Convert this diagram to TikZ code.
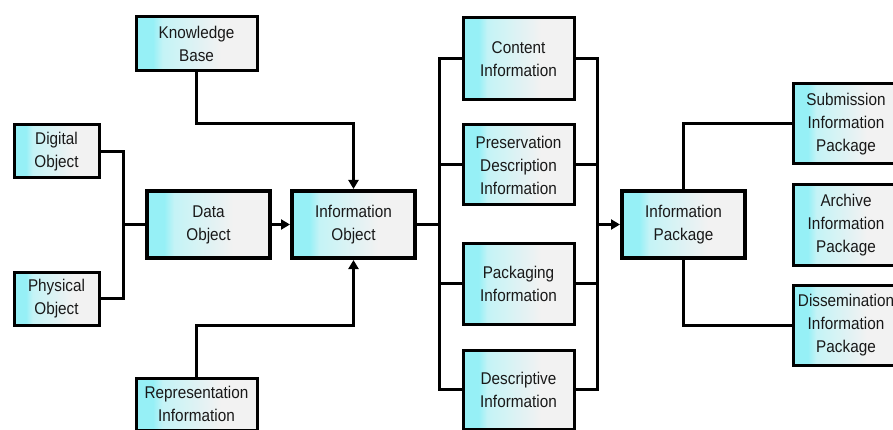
\documentclass[tikz,border=0pt]{standalone}
\usepackage{fontspec}
\setmainfont{Liberation Sans}[FakeStretch=0.9]
\usetikzlibrary{arrows.meta}
\definecolor{cA}{RGB}{150,240,246}
\definecolor{cB}{RGB}{196,243,246}
\definecolor{cC}{RGB}{242,242,242}
\pgfdeclarehorizontalshading{boxshade}{100bp}{color(0bp)=(cA); color(32bp)=(cA); color(36bp)=(cB); color(60bp)=(cC); color(100bp)=(cC)}
\begin{document}
\begin{tikzpicture}[x=1pt,y=-1pt,
  box/.style={draw=black, line width=3pt, shading=boxshade, align=center,
    inner sep=2pt, text=black!90, font=\fontsize{17}{23}\selectfont},
  bbox/.style={box, line width=4pt},
  wire/.style={draw=black, line width=3pt},
  arr/.style={wire, -{Triangle[length=9pt,width=10pt]}}]
\useasboundingbox (0,0) rectangle (893,430);
\clip (0,0) rectangle (893,430);
\fill[white] (0,0) rectangle (893,430);
% left part
\node[box, minimum width=121pt, minimum height=54pt] (kb) at (196.5,44) {Knowledge\\Base};
\node[box, minimum width=85pt, minimum height=53pt] (dig) at (56.5,151.5) {Digital\\Object};
\node[box, minimum width=85pt, minimum height=53pt] (phys) at (56.5,298.5) {Physical\\Object};
\node[bbox, minimum width=123pt, minimum height=67pt] (data) at (208.5,224.5) {Data\\Object};
\node[bbox, minimum width=123pt, minimum height=67pt] (info) at (353.5,224.5) {Information\\Object};
\node[box, minimum width=121pt, minimum height=52pt] (rep) at (196.5,404) {Representation\\Information};
% middle column
\node[box, minimum width=111pt, minimum height=82pt] (ci) at (518.5,59) {Content\\Information};
\node[box, minimum width=111pt, minimum height=80pt] (pdi) at (518.5,165) {Preservation\\Description\\Information};
\node[box, minimum width=111pt, minimum height=81pt] (pi) at (518.5,283.5) {Packaging\\Information};
\node[box, minimum width=111pt, minimum height=79pt] (di) at (518.5,389.5) {Descriptive\\Information};
% right part
\node[bbox, minimum width=123pt, minimum height=67pt] (ip) at (683.5,224.5) {Information\\Package};
\node[box, minimum width=106pt, minimum height=80pt] (sip) at (846,124) {Submission\\Information\\Package};
\node[box, minimum width=106pt, minimum height=80pt] (aip) at (846,225) {Archive\\Information\\Package};
\node[box, minimum width=106pt, minimum height=80pt] (dip) at (846,325) {Dissemination\\Information\\Package};
% junction coordinates
\coordinate (jl) at (123,224.5);
\coordinate (kbt) at (196.5,124);
\coordinate (rpt) at (196.5,325);
\coordinate (bl) at (439,224.5);
\coordinate (br) at (597,224.5);
% connectors
\draw[wire] (dig.east) -| (jl) |- (phys.east);
\draw[wire] (jl) -- (data.west);
\draw[arr] (data.east) -- (info.west);
\draw[arr] (kb.south) -- (kbt) -| (info.north);
\draw[arr] (rep.north) -- (rpt) -| (info.south);
\draw[wire] (info.east) -- (bl);
\draw[wire] (ci.west) -| (bl |- di.west) -- (di.west);
\draw[wire] (bl |- pdi.west) -- (pdi.west);
\draw[wire] (bl |- pi.west) -- (pi.west);
\draw[wire] (ci.east) -| (br |- di.east) -- (di.east);
\draw[wire] (pdi.east) -- (br |- pdi.east);
\draw[wire] (pi.east) -- (br |- pi.east);
\draw[arr] (br) -- (ip.west);
\draw[wire] (ip.north) |- (sip.west);
\draw[wire] (ip.south) |- (dip.west);
\end{tikzpicture}
\end{document}
